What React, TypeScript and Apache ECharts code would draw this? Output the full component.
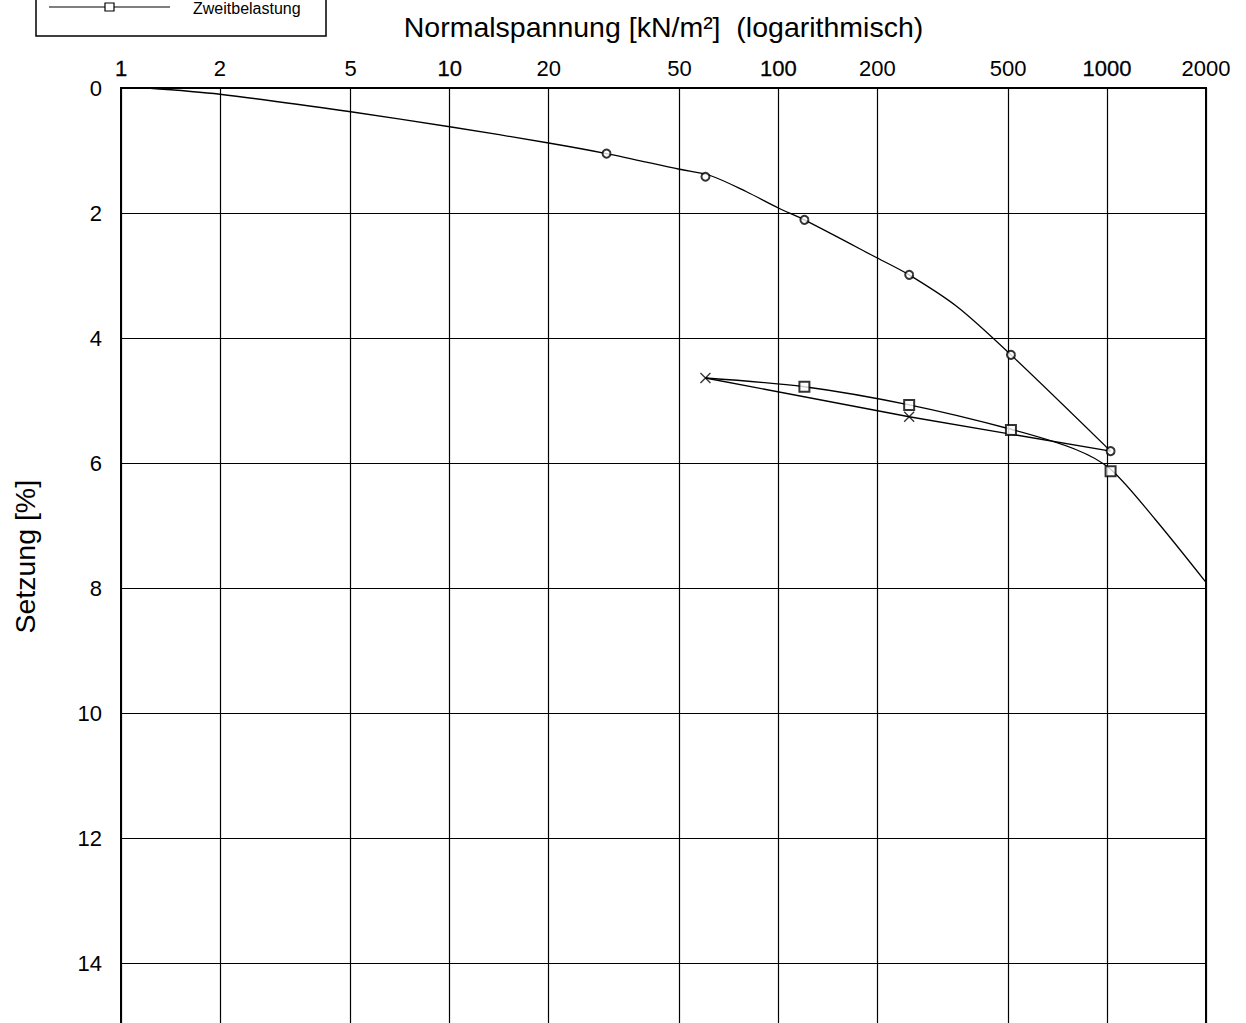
import React, { useEffect, useRef } from "react";
import * as echarts from "echarts";

// Tick values of the logarithmic stress axis
const X_TICKS = [1, 2, 5, 10, 20, 50, 100, 200, 500, 1000, 2000];
const X_MIN = 1;
const X_MAX = 2000;
const Y_MIN = 0;
const Y_MAX = 15;
const Y_STEP = 2;

// Erstbelastung: fitted curve and measured points (stress kN/m², settlement %)
const ERST_CURVE: [number, number][] = [
  [1.2, 0], [2, 0.1], [5, 0.38], [10, 0.62], [20, 0.88], [30, 1.05],
  [50, 1.3], [62, 1.4], [80, 1.66], [100, 1.92], [120, 2.11],
  [200, 2.72], [250, 2.99], [350, 3.5], [510, 4.27], [1025, 5.81],
];
const ERST_POINTS: [number, number][] = [
  [30, 1.05], [60, 1.42], [120, 2.11], [250, 2.99], [510, 4.27], [1025, 5.81],
];

// Entlastung: line and points
const ENT_LINE: [number, number][] = [[1025, 5.81], [250, 5.26], [60, 4.64]];
const ENT_POINTS: [number, number][] = [[250, 5.26], [60, 4.64]];

// Zweitbelastung: fitted curve and measured points
const ZWEIT_CURVE: [number, number][] = [
  [60, 4.64], [120, 4.78], [250, 5.07], [510, 5.46], [800, 5.78],
  [1025, 6.1], [1400, 6.9], [2000, 7.91],
];
const ZWEIT_POINTS: [number, number][] = [
  [120, 4.78], [250, 5.07], [510, 5.47], [1025, 6.13],
];

const FONT = "'Liberation Sans', Arial, Helvetica, sans-serif";
const X_MARK = "path://M0,0L10,10M10,0L0,10";

export default function App() {
  const ref = useRef<HTMLDivElement>(null);

  useEffect(() => {
    if (!ref.current) return;
    const chart = echarts.init(ref.current, null, { renderer: "svg" });
    const logTicks = X_TICKS.map((v) => Math.log10(v));
    const isPow10 = (n: number) => [1, 10, 100, 1000].includes(n);

    chart.setOption({
      animation: false,
      backgroundColor: "#fff",
      textStyle: { fontFamily: FONT, color: "#000" },
      grid: {
        left: 121,
        top: 88,
        right: 40,
        bottom: 14.5,
        show: true,
        borderColor: "#000",
        borderWidth: 2,
        backgroundColor: "transparent",
      },
      xAxis: [
        {
          type: "log",
          logBase: 10,
          min: X_MIN,
          max: X_MAX,
          position: "bottom",
          show: false,
        },
        {
          type: "value",
          min: Math.log10(X_MIN),
          max: Math.log10(X_MAX),
          position: "top",
          name: "Normalspannung [kN/m²]  (logarithmisch)",
          nameLocation: "middle",
          nameGap: 47,
          nameTextStyle: { fontSize: 28.5, color: "#000", fontFamily: FONT },
          axisLine: { show: true, lineStyle: { color: "#000", width: 2 } },
          axisTick: { show: false, customValues: logTicks },
          axisLabel: {
            customValues: logTicks,
            fontSize: 22,
            color: "#000",
            fontFamily: FONT,
            margin: 9,
            formatter: (v: number) => {
              const n = Math.round(Math.pow(10, v));
              return isPow10(n) ? `{p|${n}}` : `${n}`;
            },
            rich: {
              p: {
                fontSize: 22,
                color: "#000",
                fontFamily: FONT,
                textBorderColor: "#000",
                textBorderWidth: 0.3,
              },
            },
          },
          splitLine: { show: true, lineStyle: { color: "#000", width: 1.2 } },
        },
      ],
      yAxis: {
        type: "value",
        inverse: true,
        min: Y_MIN,
        max: Y_MAX,
        interval: Y_STEP,
        name: "Setzung [%]",
        nameLocation: "middle",
        nameGap: 82,
        nameRotate: 90,
        nameTextStyle: { fontSize: 28.5, color: "#000", fontFamily: FONT },
        axisLine: { show: true, lineStyle: { color: "#000", width: 2 } },
        axisTick: { show: false },
        axisLabel: {
          fontSize: 22,
          color: "#000",
          fontFamily: FONT,
          margin: 19,
          showMaxLabel: false,
        },
        splitLine: { show: true, lineStyle: { color: "#000", width: 1.2 } },
      },
      series: [
        {
          name: "Erstbelastung",
          type: "line",
          xAxisIndex: 0,
          data: ERST_CURVE,
          smooth: 0.3,
          showSymbol: false,
          symbol: "none",
          lineStyle: { color: "#000", width: 1.3 },
          z: 3,
        },
        {
          name: "Erstbelastung Punkte",
          type: "scatter",
          xAxisIndex: 0,
          data: ERST_POINTS,
          symbol: "emptyCircle",
          symbolSize: 8,
          itemStyle: { color: "#000", borderColor: "#000", borderWidth: 1.2 },
          z: 5,
        },
        {
          name: "Entlastung",
          type: "line",
          xAxisIndex: 0,
          data: ENT_LINE,
          showSymbol: false,
          symbol: "none",
          lineStyle: { color: "#000", width: 1.3 },
          z: 3,
        },
        {
          name: "Entlastung Punkte",
          type: "scatter",
          xAxisIndex: 0,
          data: ENT_POINTS,
          symbol: X_MARK,
          symbolSize: 10,
          itemStyle: { color: "none", borderColor: "#000", borderWidth: 1.3 },
          z: 5,
        },
        {
          name: "Zweitbelastung",
          type: "line",
          xAxisIndex: 0,
          data: ZWEIT_CURVE,
          smooth: 0.3,
          showSymbol: false,
          symbol: "none",
          lineStyle: { color: "#000", width: 1.3 },
          z: 3,
        },
        {
          name: "Zweitbelastung Punkte",
          type: "scatter",
          xAxisIndex: 0,
          data: ZWEIT_POINTS,
          symbol: "emptyRect",
          symbolSize: 10,
          itemStyle: { color: "#000", borderColor: "#000", borderWidth: 1.2 },
          z: 5,
        },
      ],
      graphic: [
        {
          type: "rect",
          shape: { x: 36, y: -60, width: 290, height: 96 },
          style: { fill: "#fff", stroke: "#000", lineWidth: 1.5 },
          z: 10,
        },
        {
          type: "line",
          shape: { x1: 49, y1: 7, x2: 170, y2: 7 },
          style: { stroke: "#000", lineWidth: 1.2 },
          z: 11,
        },
        {
          type: "rect",
          shape: { x: 105, y: 3, width: 9, height: 8 },
          style: { fill: "#fff", stroke: "#000", lineWidth: 1.2 },
          z: 12,
        },
        {
          type: "text",
          x: 193,
          y: 8,
          style: {
            text: "Zweitbelastung",
            fontSize: 16,
            fontFamily: FONT,
            fill: "#000",
            verticalAlign: "middle",
            align: "left",
          },
          z: 12,
        },
      ],
    });

    return () => chart.dispose();
  }, []);

  return (
    <div
      style={{
        position: "fixed",
        left: 0,
        top: 0,
        width: 1246,
        height: 1023,
        overflow: "hidden",
        background: "#fff",
      }}
    >
      <div ref={ref} style={{ width: 1246, height: 1040 }} />
    </div>
  );
}
